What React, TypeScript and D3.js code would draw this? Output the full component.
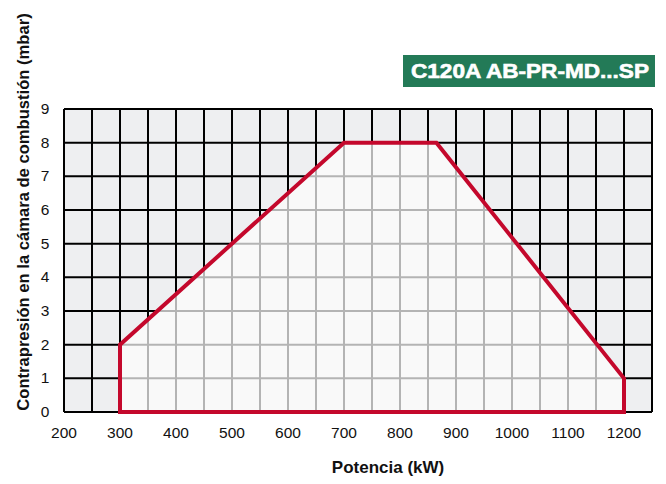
import React from "react";
import * as d3 from "d3";

const xTicks = [200, 300, 400, 500, 600, 700, 800, 900, 1000, 1100, 1200];
const yTicks = [0, 1, 2, 3, 4, 5, 6, 7, 8, 9];
const envelopeKW = [300, 300, 700, 865, 1200, 1200];
const envelopeMbar = [0, 2, 8, 8, 1, 0];
const title = "C120A AB-PR-MD...SP";
const xLabel = "Potencia (kW)";
const yLabel = "Contrapresión en la cámara de combustión (mbar)";

const W = 666, H = 484;
const L = 64, R = 652, T = 109, B = 412;

export default function App() {
  const x = d3.scaleLinear().domain([200, 1250]).range([L, R]);
  const y = d3.scaleLinear().domain([0, 9]).range([B, T]);
  const pts: [number, number][] = envelopeKW.map((k, i) => [x(k), y(envelopeMbar[i])]);
  const line = d3.line().curve(d3.curveLinearClosed)(pts) || "";
  const vx = d3.range(200, 1250 + 1, 50);
  const font = "Helvetica, Arial, 'Liberation Sans', sans-serif";
  return (
    <svg width={W} height={H} style={{ position: "absolute", left: 0, top: 0 }} fontFamily={font}>
      <defs>
        <clipPath id="env"><path d={line} /></clipPath>
      </defs>
      <rect x={L} y={T} width={R - L} height={B - T} fill="#eeeff1" />
      {vx.map((v) => (
        <line key={"v" + v} x1={x(v)} x2={x(v)} y1={T} y2={B} stroke="#000" strokeWidth={2} />
      ))}
      {yTicks.map((v) => (
        <line key={"h" + v} x1={L} x2={R} y1={y(v)} y2={y(v)} stroke="#000" strokeWidth={2} />
      ))}
      <g clipPath="url(#env)">
        <rect x={L} y={T} width={R - L} height={B - T} fill="#f9f9f9" />
        {vx.map((v) => (
          <line key={"iv" + v} x1={x(v)} x2={x(v)} y1={T} y2={B} stroke="#b4b4b4" strokeWidth={2} />
        ))}
        {yTicks.map((v) => (
          <line key={"ih" + v} x1={L} x2={R} y1={y(v)} y2={y(v)} stroke="#b4b4b4" strokeWidth={2} />
        ))}
      </g>
      <path d={line} fill="none" stroke="#c4082c" strokeWidth={4} strokeLinejoin="miter" />
      {xTicks.map((v) => (
        <text key={"xt" + v} x={x(v)} y={438} textAnchor="middle" fontSize={15.5} fill="#111">{v}</text>
      ))}
      {yTicks.map((v) => (
        <text key={"yt" + v} x={45} y={y(v) + 5} textAnchor="middle" fontSize={15.5} fill="#111">{v}</text>
      ))}
      <text x={388} y={473} textAnchor="middle" fontSize={17} fontWeight="bold" fill="#111">{xLabel}</text>
      <text transform={`translate(29,212) rotate(-90)`} textAnchor="middle" fontSize={16.6} fontWeight="bold" fill="#111">{yLabel}</text>
      <rect x={403} y={55} width={252} height={32} fill="#237a57" />
      <text x={530} y={78} textAnchor="middle" fontSize={19.5} fontWeight="bold" fill="#fff" stroke="#fff" strokeWidth={0.6}
        textLength={238} lengthAdjust="spacingAndGlyphs">{title}</text>
    </svg>
  );
}
